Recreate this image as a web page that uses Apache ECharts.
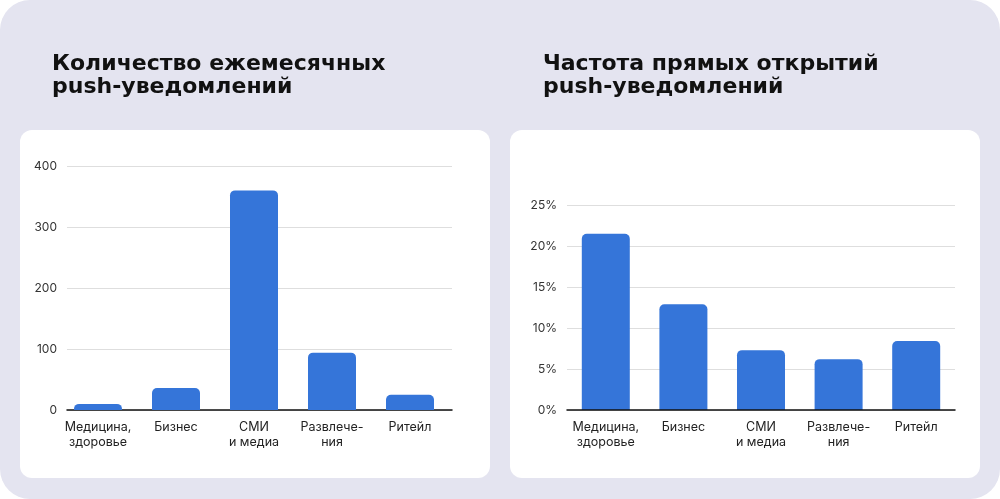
<!DOCTYPE html>
<html>
<head>
<meta charset="utf-8">
<script src="https://cdn.jsdelivr.net/npm/echarts@6/dist/echarts.min.js"></script>
<style>
  html, body { margin: 0; padding: 0; background: #fff; }
  #main { width: 1000px; height: 499px; }
</style>
</head>
<body>
<div id="main"></div>
<script>
// категории и значения
var categories = ['Медицина,\nздоровье', 'Бизнес', 'СМИ\nи медиа', 'Развлече-\nния', 'Ритейл'];
var monthlyPush = [10, 36, 360, 94, 25];
var openRate = [21.5, 12.9, 7.3, 6.2, 8.4];
var titles = ['Количество ежемесячных\npush-уведомлений', 'Частота прямых открытий\npush-уведомлений'];

var barColor = '#3575d9';
var labelFont = 'Inter, "Noto Sans", sans-serif';
var titleStyle = { fontFamily: '"DejaVu Sans", sans-serif', fontWeight: 'bold', fontSize: 22, lineHeight: 23, color: '#111' };

var chart = echarts.init(document.getElementById('main'));

var yLabel = {
    color: '#333',
    fontSize: 12,
    fontFamily: labelFont,
    margin: 10,
    padding: [0, 0, 6, 0]
};
var xLabel = {
    color: '#222',
    fontSize: 12.5,
    fontFamily: labelFont,
    lineHeight: 14.5,
    margin: 10,
    interval: 0
};

var option = {
    animation: false,
    graphic: [
        { type: 'rect', z: -10, shape: { x: 0, y: 0, width: 1000, height: 499, r: 30 }, style: { fill: '#e4e4f0' } },
        { type: 'rect', z: -9, shape: { x: 20, y: 130, width: 470, height: 348, r: 12 }, style: { fill: '#fff' } },
        { type: 'rect', z: -9, shape: { x: 510, y: 130, width: 470, height: 348, r: 12 }, style: { fill: '#fff' } }
    ],
    title: [
        { text: titles[0], left: 47, top: 48, textStyle: titleStyle },
        { text: titles[1], left: 538, top: 48, textStyle: titleStyle }
    ],
    grid: [
        // сетка и ось Y левого графика
        { left: 67, right: 548, top: 166, bottom: 89 },
        // столбцы левого графика
        { left: 59, right: 551, top: 166, bottom: 89 },
        // правый график
        { left: 567, right: 45, top: 205, bottom: 89 }
    ],
    xAxis: [
        { gridIndex: 0, type: 'value', min: 0, max: 1, axisLabel: { show: false }, axisTick: { show: false }, splitLine: { show: false },
          axisLine: { show: true, lineStyle: { color: '#111', width: 1.5 } } },
        { gridIndex: 1, type: 'category', data: categories, axisTick: { show: false }, axisLine: { show: false }, axisLabel: xLabel },
        { gridIndex: 2, type: 'category', data: categories, axisTick: { show: false }, z: 5,
          axisLine: { show: true, lineStyle: { color: '#111', width: 1.5 } }, axisLabel: xLabel }
    ],
    yAxis: [
        { gridIndex: 0, type: 'value', min: 0, max: 400, interval: 100, axisLabel: yLabel,
          axisLine: { show: false }, axisTick: { show: false }, splitLine: { lineStyle: { color: '#dedede' } } },
        { gridIndex: 1, type: 'value', min: 0, max: 400, interval: 100, show: false },
        { gridIndex: 2, type: 'value', min: 0, max: 25, interval: 5,
          axisLabel: Object.assign({}, yLabel, { formatter: '{value}%' }),
          axisLine: { show: false }, axisTick: { show: false }, splitLine: { lineStyle: { color: '#dedede' } } }
    ],
    series: [
        { type: 'bar', xAxisIndex: 1, yAxisIndex: 1, data: monthlyPush, barWidth: 48,
          itemStyle: { color: barColor, borderRadius: [5, 5, 0, 0] } },
        { type: 'bar', xAxisIndex: 2, yAxisIndex: 2, data: openRate, barWidth: 48,
          itemStyle: { color: barColor, borderRadius: [5, 5, 0, 0] } }
    ]
};

chart.setOption(option);
</script>
</body>
</html>
